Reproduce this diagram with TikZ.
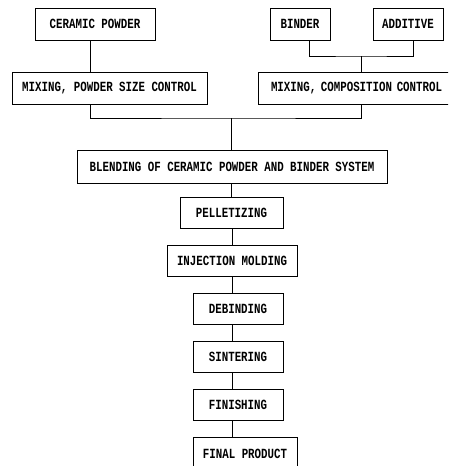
\documentclass[tikz,border=0pt]{standalone}
\usepackage{fontspec}
\newfontfamily\boxfont[FakeStretch=0.77]{Liberation Mono}
\begin{document}
\begin{tikzpicture}[x=1pt,y=-1pt,
  boxst/.style={draw,line width=0.7pt,rectangle,inner sep=0pt,
    font=\boxfont\fontsize{14}{16}\selectfont\bfseries},
  conn/.style={line width=0.6pt}]
\clip (0,0) rectangle (448,466);
\fill[white] (0,0) rectangle (448,466);
\node[boxst,minimum width=120,minimum height=32] (cp) at (95,24) {CERAMIC POWDER};
\node[boxst,minimum width=60,minimum height=32] (bind) at (300,24) {BINDER};
\node[boxst,minimum width=70,minimum height=32] (add) at (408,24) {ADDITIVE};
\node[boxst,minimum width=195,minimum height=32] (mixp) at (109.5,88) {MIXING, POWDER SIZE CONTROL};
\node[boxst,minimum width=197,minimum height=32,text width=189,align=left,inner sep=0pt] (mixc) at (356.5,88) {\hspace{9pt}MIXING, COMPOSITION CONTROL};
\node[boxst,minimum width=310,minimum height=33] (blend) at (232,166.5) {BLENDING OF CERAMIC POWDER AND BINDER SYSTEM};
\node[boxst,minimum width=103,minimum height=31] (pel) at (231.5,212.5) {PELLETIZING};
\node[boxst,minimum width=130,minimum height=31] (inj) at (232,260.5) {INJECTION MOLDING};
\node[boxst,minimum width=90,minimum height=31] (deb) at (238,308.5) {DEBINDING};
\node[boxst,minimum width=90,minimum height=31] (sint) at (238,356.5) {SINTERING};
\node[boxst,minimum width=90,minimum height=31] (fin) at (238,404.5) {FINISHING};
\node[boxst,minimum width=104,minimum height=40,text depth=0pt] (final) at (245,457) {\raisebox{7pt}{FINAL PRODUCT}};
\coordinate (ba) at (361,56);
\coordinate (mm) at (231,118);
\draw[conn] (cp.south -| 90,0) -- (mixp.north -| 90,0);
\draw[conn] (bind.south -| 309,0) |- (ba) -| (add.south -| 413,0);
\draw[conn] (ba) -- (mixc.north -| ba);
\draw[conn] (mixp.south -| 90,0) |- (mm) -| (mixc.south -| 361,0);
\draw[conn] (mm) -- (blend.north -| mm);
\draw[conn] (blend.south -| mm) -- (pel.north -| mm);
\draw[conn] (pel.south -| 232,0) -- (inj.north -| 232,0);
\draw[conn] (inj.south -| 232,0) -- (deb.north -| 232,0);
\draw[conn] (deb.south -| 232,0) -- (sint.north -| 232,0);
\draw[conn] (sint.south -| 232,0) -- (fin.north -| 232,0);
\draw[conn] (fin.south -| 232,0) -- (final.north -| 232,0);
\end{tikzpicture}
\end{document}
